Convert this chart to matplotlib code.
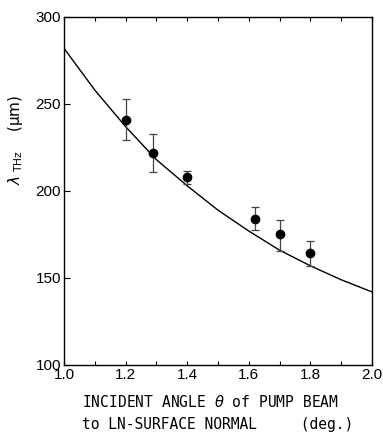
import matplotlib.pyplot as plt
import numpy as np

# measured points (incident angle in deg., wavelength in um)
angle = [1.2, 1.29, 1.4, 1.62, 1.7, 1.8]
lam = [241, 222, 208, 184, 175, 164.5]
err_hi = [12, 11, 3.5, 6.5, 8.5, 6.5]
err_lo = [12, 11, 4, 6.5, 9.5, 7.5]

# calculated curve
curve_x = [1.0, 1.1, 1.2, 1.3, 1.4, 1.5, 1.6, 1.7, 1.8, 1.9, 2.0]
curve_y = [282, 258, 237, 218, 203, 189, 177, 166, 157, 149, 142]

fig = plt.figure(figsize=(3.83, 4.34), dpi=100)
ax = fig.add_axes([0.167, 0.159, 0.804, 0.802])

ax.plot(curve_x, curve_y, color="black", lw=1.0)
ax.errorbar(angle, lam, yerr=[err_lo, err_hi], fmt="o", color="black",
            ms=6, ecolor="#444444", elinewidth=0.9, capsize=3, capthick=0.9)

ax.set_xlim(1.0, 2.0)
ax.set_ylim(100, 300)
ax.set_xticks([1.0, 1.2, 1.4, 1.6, 1.8, 2.0])
ax.set_xticks(np.arange(1.1, 2.0, 0.2), minor=True)
ax.set_yticks([100, 150, 200, 250, 300])
ax.set_xticklabels(["1.0", "1.2", "1.4", "1.6", "1.8", "2.0"])
ax.tick_params(axis="x", which="both", direction="in", top=True, length=3,
               width=0.8, labelsize=11, pad=2)
ax.tick_params(axis="y", which="both", direction="in", length=4, width=0.8,
               labelsize=11, pad=2)
for lbl in ax.get_xticklabels() + ax.get_yticklabels():
    lbl.set_family("Liberation Sans")
for s in ax.spines.values():
    s.set_linewidth(1.0)

fig.text(0.214, 0.074, "INCIDENT ANGLE $\\theta$ of PUMP BEAM", ha="left",
         va="center", fontsize=10.5, family="DejaVu Sans Mono")
fig.text(0.214, 0.023, "to LN-SURFACE NORMAL     (deg.)", ha="left",
         va="center", fontsize=10.5, family="DejaVu Sans Mono")
fig.text(0.04, 0.677, "$\\lambda_{\\rm\\ THz}$    (\u03bcm)", rotation=90,
         ha="center", va="center", fontsize=11, family="DejaVu Sans")

fig.savefig("out.png", dpi=100)
